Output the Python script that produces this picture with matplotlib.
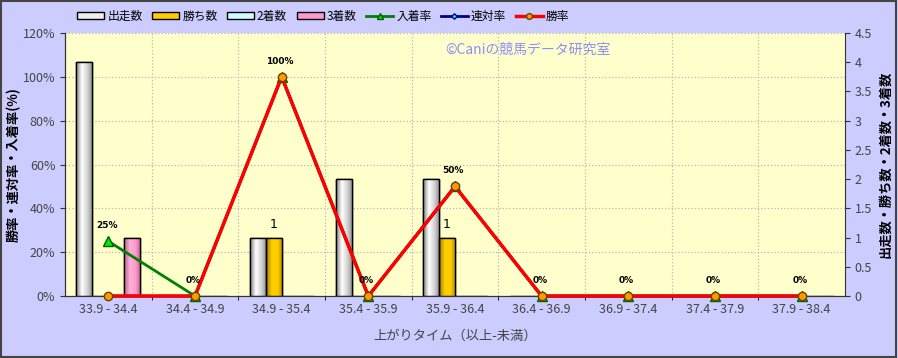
import numpy as np
import matplotlib
matplotlib.use("Agg")
import matplotlib.pyplot as plt
from matplotlib.patches import Rectangle
from matplotlib.colors import LinearSegmentedColormap

plt.rcParams["font.family"] = ["Noto Sans CJK JP", "DejaVu Sans"]

# data
categories = ["33.9 - 34.4", "34.4 - 34.9", "34.9 - 35.4", "35.4 - 35.9", "35.9 - 36.4",
              "36.4 - 36.9", "36.9 - 37.4", "37.4 - 37.9", "37.9 - 38.4"]
runs = [4, 0, 1, 2, 2, 0, 0, 0, 0]
wins = [0, 0, 1, 0, 1, 0, 0, 0, 0]
seconds = [0, 0, 0, 0, 0, 0, 0, 0, 0]
thirds = [1, 0, 0, 0, 0, 0, 0, 0, 0]
place_rate = [25, 0, 100, 0, 50, 0, 0, 0, 0]
quinella_rate = [0, 0, 100, 0, 50, 0, 0, 0, 0]
win_rate = [0, 0, 100, 0, 50, 0, 0, 0, 0]

BG = "#CCCCFF"; PLOT = "#FFFFCC"; TXT = "#444444"; GRID = "#b8b8b8"

fig = plt.figure(figsize=(8.98, 3.58), dpi=100, facecolor=BG)
fig.patches.append(Rectangle((0.001, 0.002), 0.997, 0.995, transform=fig.transFigure,
                             fill=False, edgecolor="#444444", lw=1.5))
ax = fig.add_axes([0.0724, 0.173, 0.8686, 0.735])
ax.set_facecolor(PLOT)
ax2 = ax.twinx()

x = np.arange(len(categories))
w = 0.185

bar_specs = [
    (runs, -1.5, ["#808080", "#ffffff", "#d0d0d0", "#8a8a8a"], "#eeeeee", "出走数"),
    (wins, -0.5, ["#a07800", "#ffd000", "#ffcc00", "#b08800"], "#ffcc00", "勝ち数"),
    (seconds, 0.5, ["#80b0b0", "#e0ffff", "#ccffff", "#80b0b0"], "#ccffff", "2着数"),
    (thirds, 1.5, ["#c0608a", "#ffb0d8", "#ff99cc", "#c0608a"], "#ff99cc", "3着数"),
]
handles = []
for vals, off, cols, face, name in bar_specs:
    cmap = LinearSegmentedColormap.from_list(
        name, list(zip([0.0, 0.35, 0.7, 1.0], cols)))
    grad = np.linspace(0, 1, 64).reshape(1, -1)
    bars = ax2.bar(x + off * w, vals, width=w, color=face, edgecolor="black",
                   linewidth=1.0, zorder=2)
    for b in bars:
        if b.get_height() <= 0:
            continue
        im = ax2.imshow(grad, cmap=cmap, aspect="auto", zorder=2.1,
                        extent=[b.get_x(), b.get_x() + b.get_width(), 0, b.get_height()])
        im.set_clip_path(b)
        ax2.add_patch(Rectangle((b.get_x(), 0), b.get_width(), b.get_height(),
                                fill=False, edgecolor="black", lw=1.0, zorder=2.2))
    handles.append(Rectangle((0, 0), 1, 1, facecolor=face, edgecolor="black", lw=1.0))
    if name == "勝ち数":
        for xi, v in zip(x, vals):
            if v > 0:
                ax2.text(xi + off * w, v + 0.12, str(v), ha="center", va="bottom",
                         fontsize=9, color="black", family="DejaVu Sans", zorder=5)

ax2.set_ylim(0, 4.5)
ax2.set_yticks(np.arange(0, 4.51, 0.5))
ax2.set_yticklabels(["0", "0.5", "1", "1.5", "2", "2.5", "3", "3.5", "4", "4.5"])
ax2.set_ylabel("出走数・勝ち数・2着数・3着数", fontsize=9.5, fontweight="bold",
               color="black")
ax2.yaxis.set_label_coords(1.043, 0.5)

# rate lines drawn above the bars
ax3 = ax.twinx()
ax3.set_ylim(0, 120)
ax3.axis("off")
l1, = ax3.plot(x, place_rate, color="#008000", lw=2, marker="^", ms=7,
               mfc="#00ee00", mec="#006000", zorder=3, clip_on=False)
l2, = ax3.plot(x, quinella_rate, color="#000080", lw=2, marker="D", ms=4,
               mfc="#00ffff", mec="#000080", zorder=4, clip_on=False)
l3, = ax3.plot(x, win_rate, color="#ff0000", lw=2.5, marker="o", ms=6,
               mfc="#ff9900", mec="#664400", zorder=5, clip_on=False)
for xi, v in zip(x, place_rate):
    ax3.text(xi - 0.02, v + 5, f"{v}%", ha="center", va="bottom", fontsize=6.5,
             fontweight="bold", color="black", family="DejaVu Sans", zorder=6)

ax.set_ylim(0, 120)
ax.set_yticks(range(0, 121, 20))
ax.set_yticklabels([f"{v}%" for v in range(0, 121, 20)])
ax.set_xlim(-0.5, len(categories) - 0.5)
ax.set_xticks(x)
ax.set_xticklabels(categories)
ax.set_xticks(np.arange(0.5, len(categories) - 0.5, 1), minor=True)
ax.tick_params(axis="x", which="major", length=0, pad=5)
ax.tick_params(axis="x", which="minor", length=3, direction="out")
ax.grid(axis="y", color=GRID, ls=":", lw=0.9)
ax.grid(axis="x", which="minor", color=GRID, ls=":", lw=0.9)
ax.set_axisbelow(True)
ax.set_xlabel("上がりタイム（以上-未満）", fontsize=9.5, color=TXT, labelpad=10)
ax.set_ylabel("勝率・連対率・入着率(%)", fontsize=9.5, fontweight="bold", color="black")
ax.yaxis.set_label_coords(-0.057, 0.5)

for a in (ax, ax2):
    a.tick_params(labelsize=9, labelcolor=TXT, colors="#333333")
    for sp in a.spines.values():
        sp.set_color("#333333")
    a.spines["top"].set_visible(False)
ax.spines["right"].set_visible(False)

ax.text(0.487, 0.935, "©Caniの競馬データ研究室", transform=ax.transAxes, fontsize=10,
        color="#8c8cff", ha="left", va="center", zorder=6)

fig.legend(handles + [l1, l2, l3],
           ["出走数", "勝ち数", "2着数", "3着数", "入着率", "連対率", "勝率"],
           loc="center", bbox_to_anchor=(0.36, 0.955), ncol=7, frameon=False,
           fontsize=8.5, handlelength=2.3, handleheight=0.55, handletextpad=0.25,
           columnspacing=0.8, markerscale=0.7)

fig.savefig("out.png", dpi=100, facecolor=BG)
